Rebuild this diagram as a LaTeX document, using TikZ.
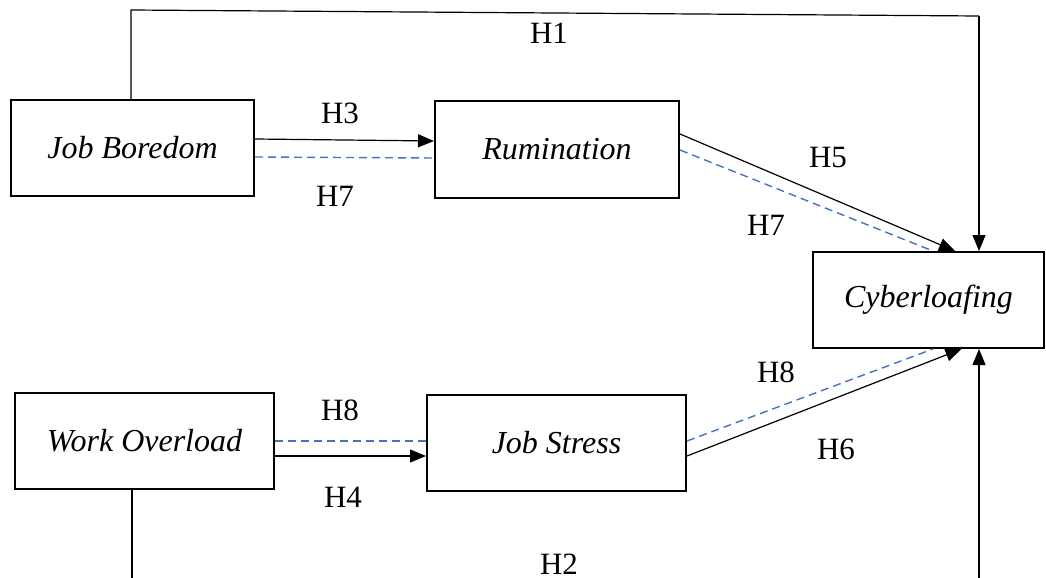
\documentclass[tikz,border=0pt]{standalone}
\usepackage{fontspec}
\setmainfont{Liberation Serif}
\usetikzlibrary{arrows.meta,calc}
\definecolor{dashblue}{HTML}{4472C4}
\tikzset{
  box/.style={draw, line width=1pt, rectangle, inner sep=0pt, font=\fontsize{16}{19}\selectfont\itshape},
  lbl/.style={font=\fontsize{15.5}{18}\selectfont, inner sep=0pt},
  conn/.style={line width=0.6pt, -{Triangle[length=8pt,width=6.5pt]}},
  plainline/.style={line width=0.6pt},
  bluedash/.style={line width=0.7pt, dashblue, dash pattern=on 4pt off 2.5pt},
}
\begin{document}
\begin{tikzpicture}[x=0.5pt,y=-0.5pt]
\useasboundingbox (0,0) rectangle (1046,578);
% nodes
\node[box, minimum width=121.5pt, minimum height=48pt] (jb) at (132.5,148) {Job Boredom};
\node[box, minimum width=122pt, minimum height=48.5pt] (ru) at (557,149.5) {Rumination};
\node[box, minimum width=115.5pt, minimum height=48pt] (cy) at (928.5,300) {Cyberloafing};
\node[box, minimum width=129.5pt, minimum height=48pt] (wo) at (144.5,441) {Work Overload};
\node[box, minimum width=129.5pt, minimum height=48pt] (js) at (556.5,443) {Job Stress};
% helper coordinates
\coordinate (h1a) at (131,10);
\coordinate (h1b) at (979,16);
\coordinate (h2a) at (132,580);
\coordinate (h2b) at (979,580);
% H1
\draw[plainline] (jb.north -| h1a) -- (h1a) -- (h1b);
\draw[conn] (h1b) -- (cy.north -| h1b);
% H3 / H7
\draw[conn] ($(jb.east)+(0,-9)$) -- ($(ru.west)+(0,-8.5)$);
\draw[bluedash] ($(jb.east)+(0,9)$) -- ($(ru.west)+(0,8.5)$);
% H5 / H7
\draw[conn] ($(ru.east)+(0,-15.5)$) -- ($(cy.north)+(26.5,0)$);
\draw[bluedash] ($(ru.east)+(0,0.5)$) -- ($(cy.north)+(4.5,0)$);
% H8 / H4
\draw[bluedash] ($(wo.east)+(0,0)$) -- ($(js.west)+(0,-2)$);
\draw[conn] ($(wo.east)+(0,15)$) -- ($(js.west)+(0,13)$);
% H6 / H8
\draw[conn] ($(js.east)+(0,13)$) -- ($(cy.south)+(33,0)$);
\draw[bluedash] ($(js.east)+(0,-2)$) -- ($(cy.south)+(4.5,0)$);
% H2
\draw[plainline] (wo.south -| h2a) -- (h2a);
\draw[conn] (h2b) -- (cy.south -| h2b);
% labels
\node[lbl] (l1) at (549,33) {H1};
\node[lbl] (l3) at (340,113) {H3};
\node[lbl] (l7a) at (335,196) {H7};
\node[lbl] (l5) at (828,158) {H5};
\node[lbl] (l7b) at (766,225) {H7};
\node[lbl] (l8b) at (776,372) {H8};
\node[lbl] (l6) at (836,449) {H6};
\node[lbl] (l8a) at (340,410) {H8};
\node[lbl] (l4) at (343,497) {H4};
\node[lbl] (l2) at (559,564) {H2};
\end{tikzpicture}
\end{document}
